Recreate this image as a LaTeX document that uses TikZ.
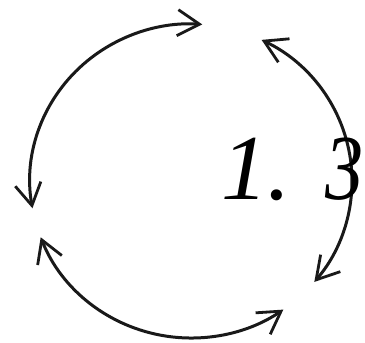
\documentclass[tikz,border=0pt]{standalone}
\usepackage{fontspec}
\setmainfont{Liberation Serif}
\usetikzlibrary{arrows.meta}
\begin{document}
\begin{tikzpicture}[x=1pt,y=-1pt,
  barb/.tip={Straight Barb[length=22pt,width=26pt,line width=2.8pt]},
  arcline/.style={line width=3pt, draw=black!90, {barb}-{barb}}]
\useasboundingbox (0,0) rectangle (365,343);
\coordinate (c) at (191,181);
% top-left arc
\draw[arcline] (c) ++(190:161 and -157) arc[start angle=190, end angle=86, x radius=161, y radius=-157];
% right arc
\draw[arcline] (c) ++(64:161 and -157) arc[start angle=64, end angle=-40, x radius=161, y radius=-157];
% bottom arc
\draw[arcline] (c) ++(201:161 and -157) arc[start angle=201, end angle=305, x radius=161, y radius=-157];
\node[anchor=base west, inner sep=0pt, font=\fontsize{93}{93}\selectfont\itshape] (lbl) at (221,199) {1.\hspace{35pt}\scalebox{0.82}[1]{3}};
\end{tikzpicture}
\end{document}
